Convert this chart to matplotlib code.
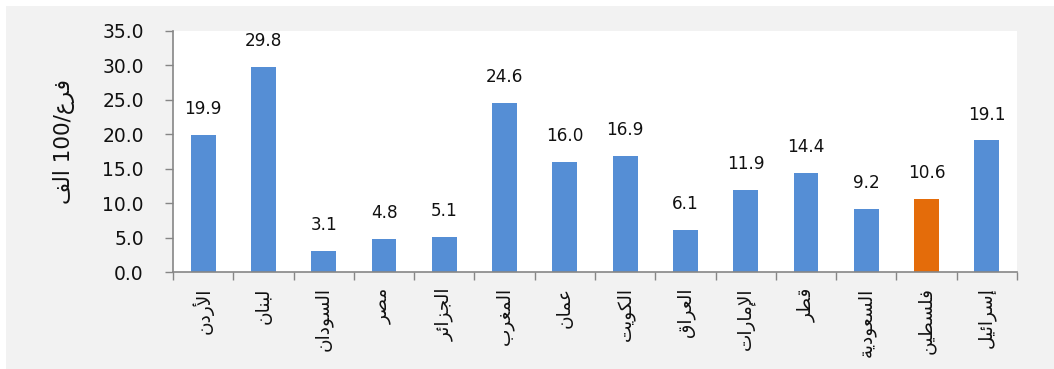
import numpy as np
import matplotlib
matplotlib.use("Agg")
import matplotlib.pyplot as plt
from matplotlib.patches import Rectangle

# ---- data ----
countries = ["الأردن", "لبنان", "السودان", "مصر", "الجزائر", "المغرب", "عمان",
             "الكويت", "العراق", "الإمارات", "قطر", "السعودية", "فلسطين", "إسرائيل"]
rates = [19.9, 29.8, 3.1, 4.8, 5.1, 24.6, 16.0, 16.9, 6.1, 11.9, 14.4, 9.2, 10.6, 19.1]
highlight = "فلسطين"
y_label = "فرع/100 الف"
y_ticks = [0.0, 5.0, 10.0, 15.0, 20.0, 25.0, 30.0, 35.0]

# ---- minimal Arabic shaping (presentation forms + visual order) ----
_FORMS = {}
_two = {0x0622: 0xFE81, 0x0623: 0xFE83, 0x0624: 0xFE85, 0x0625: 0xFE87, 0x0627: 0xFE8D,
        0x0629: 0xFE93, 0x062F: 0xFEA9, 0x0630: 0xFEAB, 0x0631: 0xFEAD, 0x0632: 0xFEAF,
        0x0648: 0xFEED, 0x0649: 0xFEEF}
_four = {0x0626: 0xFE89, 0x0628: 0xFE8F, 0x062A: 0xFE95, 0x062B: 0xFE99, 0x062C: 0xFE9D,
         0x062D: 0xFEA1, 0x062E: 0xFEA5, 0x0633: 0xFEB1, 0x0634: 0xFEB5, 0x0635: 0xFEB9,
         0x0636: 0xFEBD, 0x0637: 0xFEC1, 0x0638: 0xFEC5, 0x0639: 0xFEC9, 0x063A: 0xFECD,
         0x0641: 0xFED1, 0x0642: 0xFED5, 0x0643: 0xFED9, 0x0644: 0xFEDD, 0x0645: 0xFEE1,
         0x0646: 0xFEE5, 0x0647: 0xFEE9, 0x064A: 0xFEF1}
for cp, base in _two.items():
    _FORMS[chr(cp)] = (chr(base), chr(base + 1), None, None)
for cp, base in _four.items():
    _FORMS[chr(cp)] = tuple(chr(base + i) for i in range(4))
_LAM_ALEF = {"\u0622": 0xFEF5, "\u0623": 0xFEF7, "\u0625": 0xFEF9, "\u0627": 0xFEFB}
_LIG = {chr(v): (chr(v), chr(v + 1), None, None) for v in _LAM_ALEF.values()}
_FORMS.update(_LIG)


def _joins_left(ch):
    f = _FORMS.get(ch)
    return f is not None and f[2] is not None


def shape_arabic(text):
    # lam-alef ligatures
    chars = []
    i = 0
    while i < len(text):
        c = text[i]
        if c == "\u0644" and i + 1 < len(text) and text[i + 1] in _LAM_ALEF:
            chars.append(chr(_LAM_ALEF[text[i + 1]]))
            i += 2
        else:
            chars.append(c)
            i += 1
    out = []
    for k, c in enumerate(chars):
        f = _FORMS.get(c)
        if f is None:
            out.append(c)
            continue
        prev_j = k > 0 and _joins_left(chars[k - 1])
        next_j = (f[2] is not None and k + 1 < len(chars) and chars[k + 1] in _FORMS)
        if prev_j and next_j:
            out.append(f[3])
        elif prev_j:
            out.append(f[1])
        elif next_j:
            out.append(f[2])
        else:
            out.append(f[0])
    # visual order: reverse, keeping digit runs left-to-right
    rev = "".join(reversed(out))
    res, run = [], ""
    for c in rev:
        if c.isdigit():
            run += c
        else:
            if run:
                res.append(run[::-1])
                run = ""
            res.append(c)
    if run:
        res.append(run[::-1])
    return "".join(res)


plt.rcParams["font.family"] = ["DejaVu Sans"]

W, H = 1054, 369
fig = plt.figure(figsize=(W / 100, H / 100), dpi=100, facecolor="white")
fig.patches.append(Rectangle((6 / W, 0), 1 - 6 / W, 1 - 6 / H, transform=fig.transFigure,
                             facecolor="#f2f2f2", edgecolor="none", zorder=-10))

ax = fig.add_axes([173 / W, 1 - 272 / H, (1017 - 173) / W, (272 - 31) / H])
ax.set_facecolor("white")

x = np.arange(len(countries))
colors = ["#e46c0a" if c == highlight else "#558ed5" for c in countries]
bars = ax.bar(x, rates, width=0.41, color=colors, zorder=2)

for xi, v in zip(x, rates):
    ax.annotate(f"{v:.1f}", (xi, v), xytext=(0, 12), textcoords="offset points",
                ha="center", va="bottom", fontsize=12.2, color="#111111")

ax.set_xlim(-0.5, len(countries) - 0.5)
ax.set_ylim(0, 35)
ax.set_yticks(y_ticks)
ax.set_yticklabels([f"{t:.1f}" for t in y_ticks], fontsize=13.5, color="#111111")

# tick marks on category boundaries, labels at the bar centres
ax.set_xticks(np.arange(len(countries) + 1) - 0.5)
ax.set_xticklabels([])
ax.set_xticks(x, minor=True)
ax.set_xticklabels([shape_arabic(c) for c in countries], minor=True, rotation=90,
                   fontsize=13.3, color="#111111", va="top", ha="center")
ax.tick_params(axis="x", which="major", length=6, width=1.0, color="#868686", direction="out")
ax.tick_params(axis="x", which="minor", length=0, pad=11)
ax.tick_params(axis="y", length=6, width=1.0, color="#868686", direction="out", pad=15)

for side in ("top", "right"):
    ax.spines[side].set_visible(False)
for side in ("left", "bottom"):
    ax.spines[side].set_color("#868686")
    ax.spines[side].set_linewidth(1.2)

ax.set_ylabel(shape_arabic(y_label), fontsize=15.5, color="#111111", labelpad=20)
ax.yaxis.label.set_y((272 - 142) / (272 - 31))

fig.savefig("out.png", dpi=100, facecolor=fig.get_facecolor())
